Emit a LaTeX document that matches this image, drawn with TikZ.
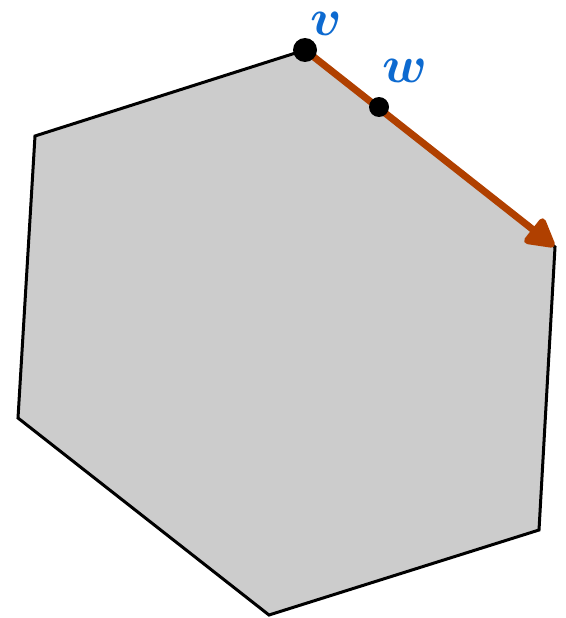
\documentclass[tikz,border=0pt]{standalone}
\usetikzlibrary{arrows.meta}
\definecolor{lblblue}{HTML}{0D6AD0}
\definecolor{arrbrown}{HTML}{B04000}
\definecolor{fillgray}{HTML}{CCCCCC}
\tikzset{
  lbl/.style={text=lblblue, font=\Huge\boldmath, inner sep=0pt, scale=2.1},
  dot/.style={circle, fill=black, inner sep=0pt}
}
\begin{document}
\begin{tikzpicture}[x=1pt,y=-1pt]
\useasboundingbox (0,0) rectangle (565,618);
\coordinate (a) at (305,50);
\coordinate (b) at (555,247);
\coordinate (c) at (539,530);
\coordinate (d) at (269,615);
\coordinate (e) at (18,418);
\coordinate (f) at (35,136);
\draw[fill=fillgray, line width=3pt, line join=miter] (a) -- (b) -- (c) -- (d) -- (e) -- (f) -- cycle;
\draw[arrbrown, line width=7pt, -{Triangle[length=32pt,width=34pt,round]}, shorten >=1pt] (a) -- (b);
\node[dot, minimum size=24pt] (v) at (a) {};
\node[dot, minimum size=20pt] (w) at (379,107) {};
\node[lbl] (vl) at (326,24) {$v$};
\node[lbl] (wl) at (405,71) {$w$};
\end{tikzpicture}
\end{document}
